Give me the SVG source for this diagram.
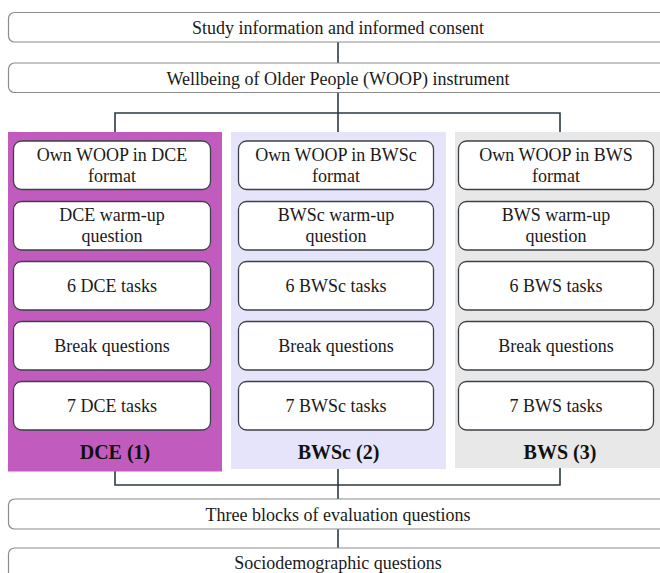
<svg xmlns="http://www.w3.org/2000/svg" width="660" height="573" viewBox="0 0 660 573">
<style>
  .top{fill:#fff;stroke:#8c8c8c;stroke-width:1.2}
  .box{fill:#fff;stroke:#3b4248;stroke-width:1.3}
  .t{font-family:"Liberation Serif","Times New Roman",serif;font-size:18px;fill:#1a1a1a;text-anchor:middle}
  .lbl{font-family:"Liberation Serif","Times New Roman",serif;font-size:20px;font-weight:bold;fill:#111;text-anchor:middle}
  .c{fill:none;stroke:#2b3a42;stroke-width:1.6}
</style>
<rect width="660" height="573" fill="#fff"/>
<g id="connectors">
  <path class="c" d="M338 42V63"/>
  <path class="c" d="M338 92V132M115 132V113H560V132"/>
  <path class="c" d="M115 471V485H560V468M338 469V499"/>
  <path class="c" d="M338 529V548"/>
</g>
<g id="consent">
  <rect class="top" x="8.5" y="12.5" width="660" height="29.5" rx="6"/>
  <text class="t" x="338" y="33.5">Study information and informed consent</text>
</g>
<g id="woop">
  <rect class="top" x="8.5" y="63" width="660" height="29.5" rx="6"/>
  <text class="t" x="338" y="84.5">Wellbeing of Older People (WOOP) instrument</text>
</g>
<g id="dce">
  <rect x="8" y="132" width="214" height="339.5" fill="#C15CBE"/>
  <rect class="box" x="13.5" y="141" width="197" height="48.5" rx="8"/>
  <text class="t" x="112" y="160.7">Own WOOP in DCE</text>
  <text class="t" x="112" y="181.7">format</text>
  <rect class="box" x="13.5" y="201.5" width="197" height="48.5" rx="8"/>
  <text class="t" x="112" y="221">DCE warm-up</text>
  <text class="t" x="112" y="242">question</text>
  <rect class="box" x="13.5" y="261.5" width="197" height="48.5" rx="8"/>
  <text class="t" x="112" y="292.3">6 DCE tasks</text>
  <rect class="box" x="13.5" y="321.5" width="197" height="48.5" rx="8"/>
  <text class="t" x="112" y="352.3">Break questions</text>
  <rect class="box" x="13.5" y="381.5" width="197" height="48.5" rx="8"/>
  <text class="t" x="112" y="411.7">7 DCE tasks</text>
  <text class="lbl" x="115" y="459">DCE (1)</text>
</g>
<g id="bwsc">
  <rect x="231" y="132" width="215" height="337" fill="#E6E4FA"/>
  <rect class="box" x="238.5" y="141" width="195" height="48.5" rx="8"/>
  <text class="t" x="336" y="160.7">Own WOOP in BWSc</text>
  <text class="t" x="336" y="181.7">format</text>
  <rect class="box" x="238.5" y="201.5" width="195" height="48.5" rx="8"/>
  <text class="t" x="336" y="221">BWSc warm-up</text>
  <text class="t" x="336" y="242">question</text>
  <rect class="box" x="238.5" y="261.5" width="195" height="48.5" rx="8"/>
  <text class="t" x="336" y="292.3">6 BWSc tasks</text>
  <rect class="box" x="238.5" y="321.5" width="195" height="48.5" rx="8"/>
  <text class="t" x="336" y="352.3">Break questions</text>
  <rect class="box" x="238.5" y="381.5" width="195" height="48.5" rx="8"/>
  <text class="t" x="336" y="411.7">7 BWSc tasks</text>
  <text class="lbl" x="338.5" y="459">BWSc (2)</text>
</g>
<g id="bws">
  <rect x="455" y="132" width="215" height="336" fill="#E8E8E8"/>
  <rect class="box" x="458.5" y="141" width="195" height="48.5" rx="8"/>
  <text class="t" x="556" y="160.7">Own WOOP in BWS</text>
  <text class="t" x="556" y="181.7">format</text>
  <rect class="box" x="458.5" y="201.5" width="195" height="48.5" rx="8"/>
  <text class="t" x="556" y="221">BWS warm-up</text>
  <text class="t" x="556" y="242">question</text>
  <rect class="box" x="458.5" y="261.5" width="195" height="48.5" rx="8"/>
  <text class="t" x="556" y="292.3">6 BWS tasks</text>
  <rect class="box" x="458.5" y="321.5" width="195" height="48.5" rx="8"/>
  <text class="t" x="556" y="352.3">Break questions</text>
  <rect class="box" x="458.5" y="381.5" width="195" height="48.5" rx="8"/>
  <text class="t" x="556" y="411.7">7 BWS tasks</text>
  <text class="lbl" x="560" y="459">BWS (3)</text>
</g>
<g id="evaluation">
  <rect class="top" x="8.5" y="499" width="660" height="30" rx="6"/>
  <text class="t" x="338" y="520.5">Three blocks of evaluation questions</text>
</g>
<g id="sociodemographic">
  <rect class="top" x="8.5" y="548" width="660" height="40" rx="6"/>
  <text class="t" x="338" y="569">Sociodemographic questions</text>
</g>
</svg>
